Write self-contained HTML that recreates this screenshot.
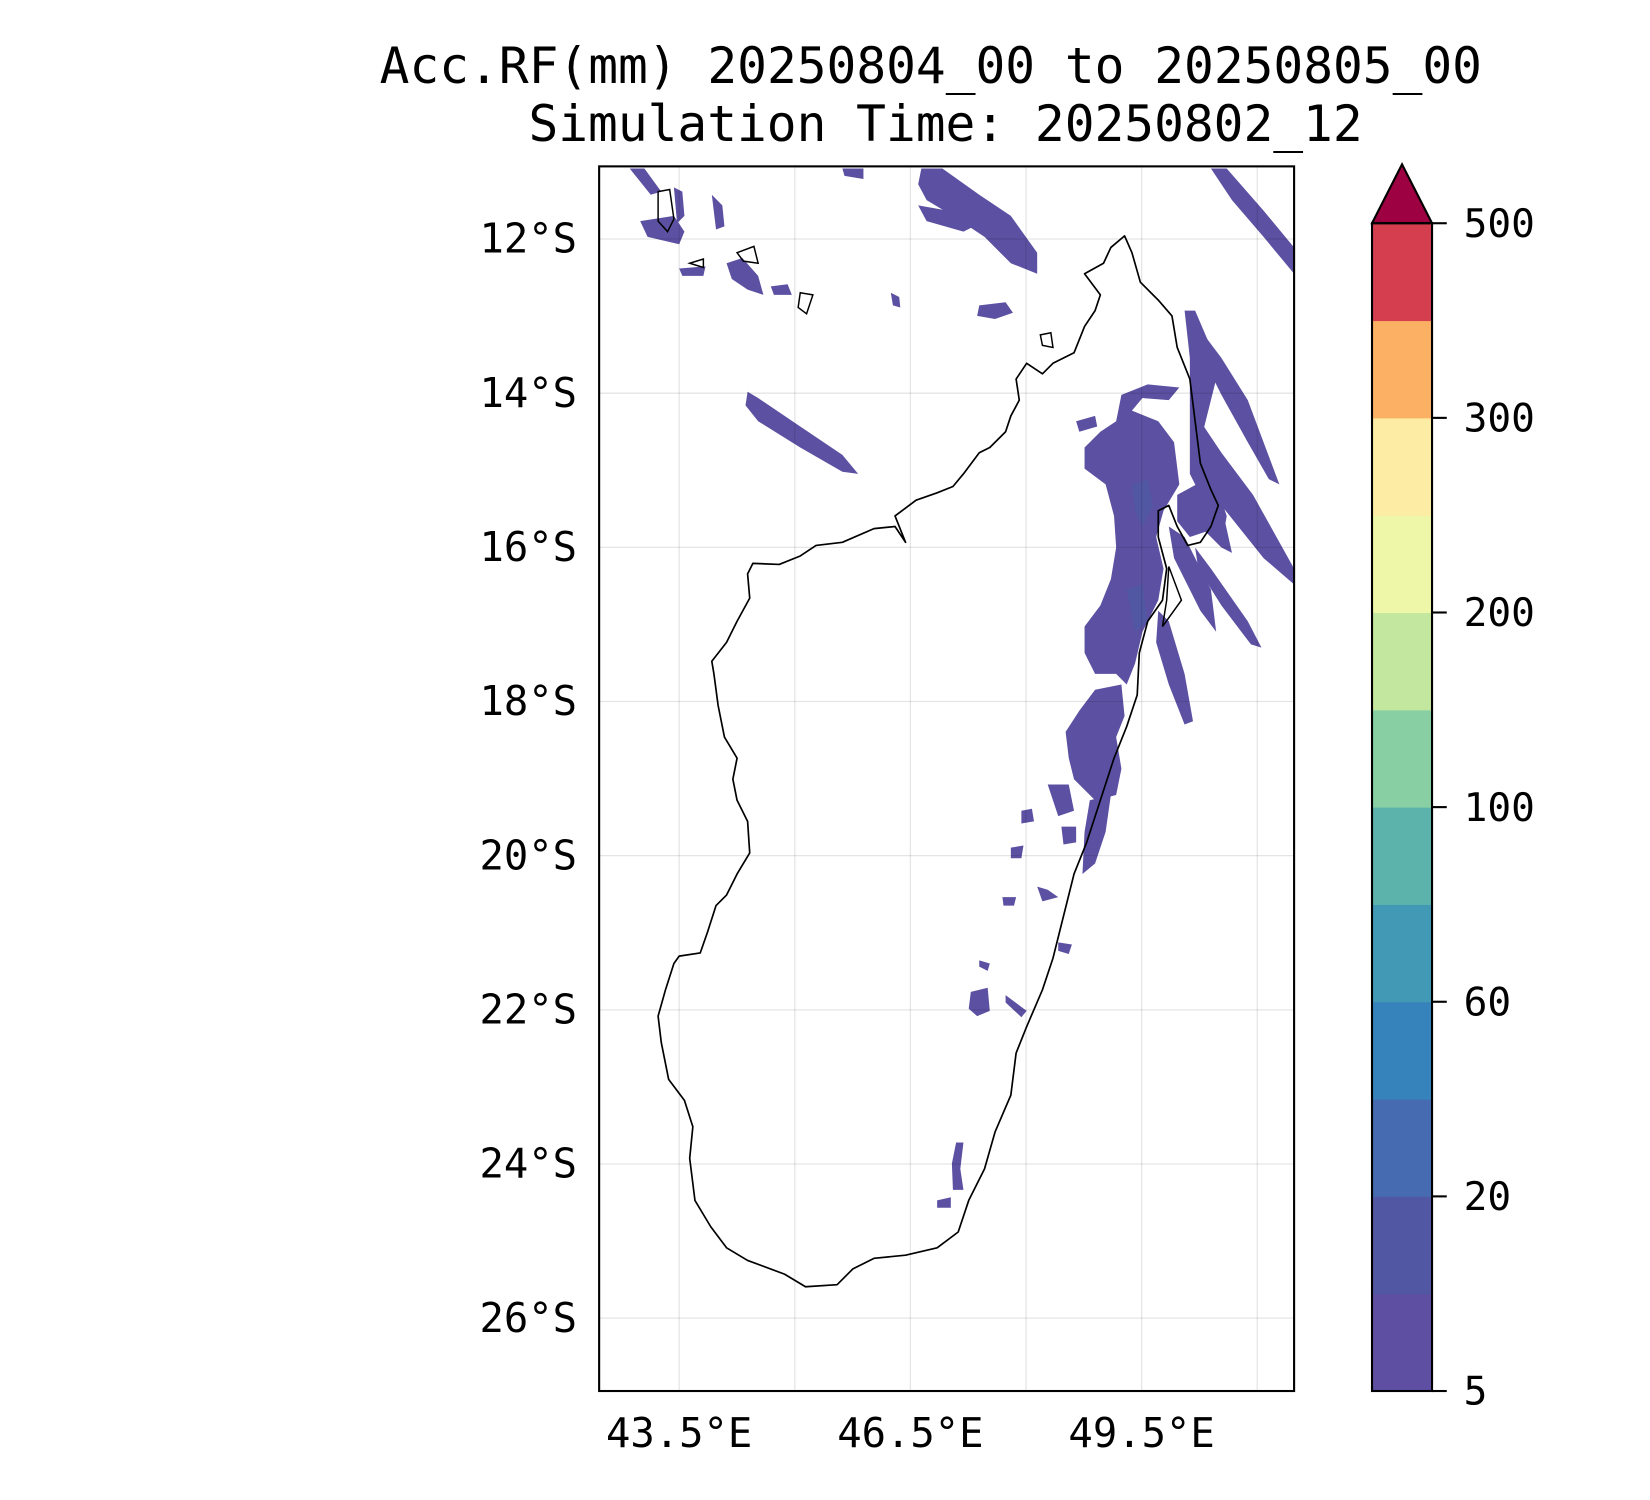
<!DOCTYPE html>
<html><head><meta charset="utf-8"><style>
html,body{margin:0;padding:0;background:#fff;}
svg{display:block;}
text{font-family:"DejaVu Sans Mono","Liberation Mono",monospace;fill:#000;}
</style></head><body>
<svg id="fig" width="1650" height="1500" viewBox="0 0 1567 1424.5" preserveAspectRatio="none" xmlns="http://www.w3.org/2000/svg">
<text x="884" y="79" font-size="47" text-anchor="middle">Acc.RF(mm) 20250804_00 to 20250805_00</text>
<text x="898" y="134" font-size="47" text-anchor="middle">Simulation Time: 20250802_12</text>
<defs><clipPath id="mapclip"><rect x="569" y="158" width="660" height="1163"/></clipPath></defs>
<g id="map" clip-path="url(#mapclip)"></g>
<g id="grid"></g>
<rect x="569" y="158" width="660" height="1163" fill="none" stroke="#000" stroke-width="2"/>
<g id="axes"></g>
<g id="cbar"></g>
</svg>
<script>
const NS='http://www.w3.org/2000/svg';
const lonTicks=[43.5,46.5,49.5];
const lonGrid=[43.5,45,46.5,48,49.5,51];
const latTicks=[12,14,16,18,20,22,24,26];
const cbLevels=[5,10,20,30,40,50,60,80,100,150,200,300,500];
const cbLabels=['5','20','60','100','200','300','500'];
const cbLabelIdx=[0,2,4,6,8,10,12];
const cbColors=['#5e4fa2','#5257a4','#466bb0','#3682ba','#4299b6','#5cb3ab','#88cfa4','#c4e79f','#eef7a8','#fdeca4','#fcb063','#d53e4f'];
const cbExtend='#9e0142';
function xLon(lon){return 645+(lon-43.5)*73.2;}
function yLat(lat){return 227+(lat-12)*73.2;}
function cbY(i){return 1321-i*(1109/12);}
function mk(tag,attrs,parent){const e=document.createElementNS(NS,tag);for(const k in attrs)e.setAttribute(k,attrs[k]);parent.appendChild(e);return e;}
const map=document.getElementById('map'),grid=document.getElementById('grid'),axes=document.getElementById('axes'),cb=document.getElementById('cbar');
const rain=[
[[598,160],[612,160],[628,182],[618,185]],
[[608,210],[640,205],[650,220],[645,232],[615,225]],
[[640,178],[648,182],[650,205],[643,212]],
[[645,255],[670,253],[668,262],[648,262]],
[[690,250],[705,245],[720,262],[725,280],[710,275],[695,265]],
[[732,272],[748,270],[752,280],[735,280]],
[[676,185],[686,195],[688,215],[680,218]],
[[800,160],[820,160],[820,170],[802,167]],
[[875,160],[895,160],[930,185],[960,205],[985,240],[985,260],[960,250],[935,225],[905,205],[880,190],[872,175]],
[[872,195],[900,200],[925,215],[915,220],[880,210]],
[[930,290],[955,287],[962,297],[945,303],[928,300]],
[[846,278],[854,282],[855,292],[848,290]],
[[1150,160],[1165,160],[1200,200],[1229,235],[1229,260],[1200,225],[1170,190]],
[[710,372],[720,378],[760,405],[800,432],[815,450],[800,448],[760,425],[720,400],[708,385]],
[[1065,375],[1090,365],[1120,368],[1110,380],[1085,378],[1075,390],[1100,400],[1115,420],[1120,460],[1105,485],[1098,510],[1105,540],[1100,570],[1085,600],[1078,630],[1070,650],[1060,640],[1040,640],[1030,620],[1030,595],[1045,575],[1055,550],[1060,520],[1058,490],[1050,460],[1030,445],[1030,425],[1045,410],[1060,400]],
[[1022,400],[1040,395],[1042,405],[1025,410]],
[[1040,655],[1065,650],[1068,680],[1060,700],[1065,730],[1060,755],[1040,760],[1020,740],[1015,720],[1012,695],[1025,675]],
[[1035,760],[1055,755],[1050,790],[1040,820],[1028,830],[1030,790]],
[[1125,295],[1135,295],[1150,330],[1155,360],[1140,420],[1155,460],[1165,490],[1160,520],[1150,490],[1130,450],[1130,400],[1130,340]],
[[1145,320],[1160,340],[1185,380],[1200,420],[1215,460],[1205,455],[1185,420],[1160,375],[1145,345]],
[[1140,400],[1160,430],[1190,470],[1229,540],[1229,555],[1200,530],[1160,480],[1140,440]],
[[1118,470],[1140,458],[1160,480],[1170,525],[1160,520],[1145,505],[1130,510],[1118,495]],
[[1110,500],[1125,510],[1150,560],[1155,600],[1140,580],[1115,530]],
[[1135,520],[1150,540],[1185,590],[1198,615],[1188,612],[1160,575],[1138,540]],
[[1100,580],[1110,590],[1125,640],[1133,685],[1125,688],[1110,650],[1098,610]],
[[970,770],[980,768],[982,780],[970,782]],
[[995,745],[1015,745],[1020,770],[1005,775]],
[[1008,785],[1022,785],[1022,800],[1010,802]],
[[960,805],[972,803],[970,815],[960,815]],
[[985,842],[995,845],[1005,852],[990,856]],
[[952,852],[965,852],[963,860],[953,860]],
[[1005,895],[1018,897],[1015,906],[1005,903]],
[[930,912],[940,915],[938,922],[930,918]],
[[922,942],[938,938],[940,960],[928,965],[920,958]],
[[955,945],[975,960],[970,966],[955,952]],
[[908,1085],[915,1085],[912,1110],[915,1130],[905,1130],[904,1105]],
[[890,1140],[903,1137],[903,1147],[890,1147]]];
rain.forEach(p=>{const e=mk('polygon',{points:p.map(q=>q.join(',')).join(' '),fill:'#5c50a2'},map);

});
[[[1075,460],[1090,455],[1095,480],[1085,500],[1078,485]],[[1070,560],[1085,555],[1090,590],[1078,600]]].forEach(p=>{const e=mk('polygon',{points:p.map(q=>q.join(',')).join(' '),fill:'#5257a4'},map);

});
const coast=[[1068,224],[1075,240],[1083,268],[1100,285],[1113,300],[1118,330],[1130,360],[1135,400],[1140,440],[1150,465],[1157,480],[1150,500],[1140,515],[1128,518],[1118,500],[1110,480],[1100,485],[1100,510],[1108,540],[1104,570],[1090,590],[1082,620],[1080,660],[1070,690],[1058,720],[1045,760],[1032,800],[1020,830],[1010,870],[1000,910],[990,940],[975,975],[965,1000],[960,1040],[945,1075],[935,1110],[920,1140],[910,1170],[890,1185],[860,1192],[830,1195],[810,1205],[795,1220],[765,1222],[745,1210],[710,1197],[690,1185],[675,1165],[660,1140],[655,1100],[658,1070],[650,1045],[635,1025],[628,990],[625,965],[632,940],[640,915],[645,908],[665,905],[672,885],[680,860],[690,850],[700,830],[712,810],[710,780],[700,760],[696,740],[700,720],[688,700],[682,670],[678,640],[676,628],[690,610],[700,590],[712,568],[710,545],[715,535],[740,536],[760,528],[775,518],[800,515],[830,502],[850,500],[860,515],[850,490],[870,475],[890,468],[905,462],[915,450],[930,430],[940,425],[955,410],[960,395],[968,380],[965,360],[975,345],[990,355],[1000,345],[1020,335],[1030,310],[1040,295],[1045,280],[1030,260],[1048,250],[1055,235]];
let e=mk('polygon',{points:coast.map(q=>q.join(',')).join(' '),fill:'none',stroke:'#000','stroke-width':1.6,'stroke-linejoin':'round'},map);


[[[625,182],[636,180],[640,208],[634,220],[625,210]],[[655,250],[668,246],[668,254]],[[700,240],[716,234],[720,250],[706,248]],[[760,278],[772,280],[766,298],[758,292]],[[988,318],[998,316],[1000,330],[990,328]],[[1110,538],[1122,570],[1104,595],[1108,570]]].forEach(p=>{const i=mk('polygon',{points:p.map(q=>q.join(',')).join(' '),fill:'none',stroke:'#000','stroke-width':1.4},map);

});
lonGrid.forEach(l=>{const g=mk('line',{x1:xLon(l),x2:xLon(l),y1:158,y2:1321,stroke:'#000','stroke-opacity':0.1,'stroke-width':1.2},grid);

});
latTicks.forEach(l=>{const g=mk('line',{x1:569,x2:1229,y1:yLat(l),y2:yLat(l),stroke:'#000','stroke-opacity':0.1,'stroke-width':1.2},grid);

});
lonTicks.forEach(l=>{const t=mk('text',{x:xLon(l),y:1374,'font-size':38.5,'text-anchor':'middle'},axes);t.textContent=l.toFixed(1)+'°E';

});
latTicks.forEach(l=>{const t=mk('text',{x:548,y:yLat(l)+13,'font-size':38.5,'text-anchor':'end'},axes);t.textContent=l+'°S';

});
cbColors.forEach((c,i)=>{const r=mk('rect',{x:1303,y:cbY(i+1),width:57,height:cbY(i)-cbY(i+1)+0.5,fill:c},cb);

});
e=mk('polygon',{points:`1303,${cbY(12)} 1360,${cbY(12)} 1331.5,156`,fill:cbExtend,stroke:'#000','stroke-width':2},cb);


e=mk('rect',{x:1303,y:cbY(12),width:57,height:cbY(0)-cbY(12),fill:'none',stroke:'#000','stroke-width':2},cb);


cbLabelIdx.forEach((li,k)=>{const y=cbY(li);mk('line',{x1:1360,x2:1374,y1:y,y2:y,stroke:'#000','stroke-width':2},cb);
const t=mk('text',{x:1390,y:y+13,'font-size':37.5},cb);t.textContent=cbLabels[k];

});
</script>
</body></html>
